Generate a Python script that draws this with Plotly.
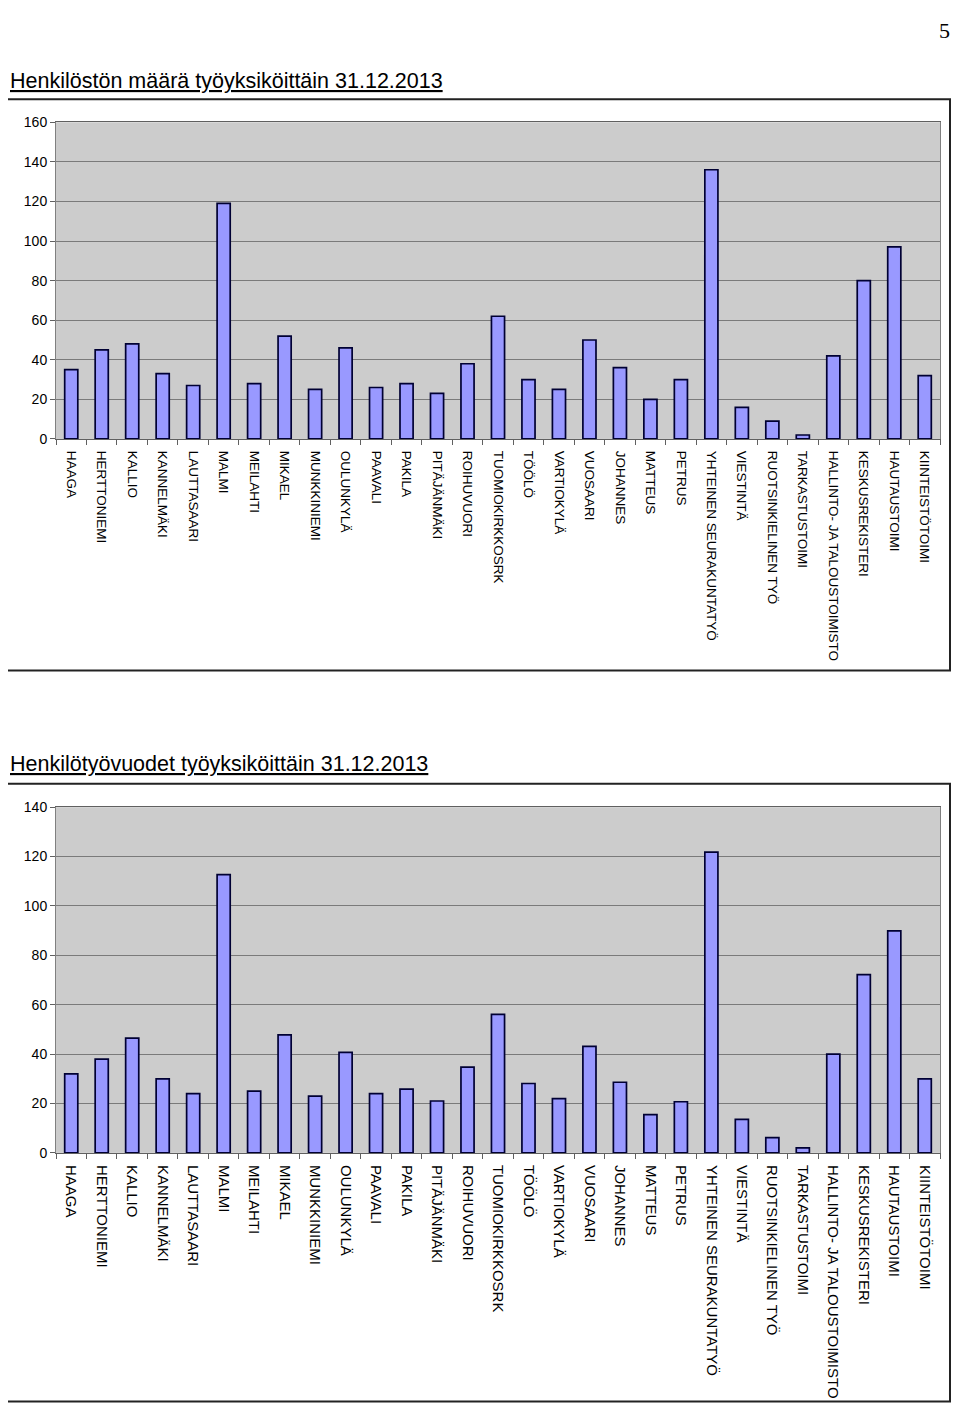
import plotly.graph_objects as go

units = ["HAAGA", "HERTTONIEMI", "KALLIO", "KANNELMÄKI", "LAUTTASAARI", "MALMI",
         "MEILAHTI", "MIKAEL", "MUNKKINIEMI", "OULUNKYLÄ", "PAAVALI", "PAKILA",
         "PITÄJÄNMÄKI", "ROIHUVUORI", "TUOMIOKIRKKOSRK", "TÖÖLÖ", "VARTIOKYLÄ",
         "VUOSAARI", "JOHANNES", "MATTEUS", "PETRUS", "YHTEINEN SEURAKUNTATYÖ",
         "VIESTINTÄ", "RUOTSINKIELINEN TYÖ", "TARKASTUSTOIMI",
         "HALLINTO- JA TALOUSTOIMISTO", "KESKUSREKISTERI", "HAUTAUSTOIMI",
         "KIINTEISTÖTOIMI"]

henkilosto = [35, 45, 48, 33, 27, 119, 28, 52, 25, 46, 26, 28, 23, 38, 62, 30, 25,
              50, 36, 20, 30, 136, 16, 9, 2, 42, 80, 97, 32]

henkilotyovuodet = [32, 38, 46.5, 30, 24, 112.7, 25, 47.8, 23, 40.7, 24, 25.8, 21,
                    34.7, 56.1, 28.1, 22, 43.1, 28.6, 15.5, 20.7, 121.8, 13.6, 6.2,
                    2, 40, 72.2, 89.9, 30]

title1 = "Henkilöstön määrä työyksiköittäin 31.12.2013"
title2 = "Henkilötyövuodet työyksiköittäin 31.12.2013"

# page offsets of the plot div and the vertical squeeze seen in the snapshot
OFFX, OFFY, K = 8, 16, 0.988
W, H = 960 - 2 * OFFX, 1403
font = "Liberation Sans, Arial, sans-serif"


def px(x):
    return (x - OFFX) / W


def py(y):
    return 1 - (y / K - OFFY) / H


bar_style = dict(color="#9999ff", line=dict(color="#000033", width=1.7))

fig = go.Figure()
fig.add_trace(go.Bar(x=units, y=henkilosto, xaxis="x", yaxis="y", marker=bar_style))
fig.add_trace(go.Bar(x=units, y=henkilotyovuodet, xaxis="x2", yaxis="y2",
                     marker=bar_style))

xdom = [px(56), px(940)]
xcommon = dict(type="category", tickangle=90, tickson="boundaries", ticks="outside",
               ticklen=5, tickcolor="#606060", showline=True, linecolor="#606060",
               mirror=True, domain=xdom, showgrid=False, ticklabelstandoff=8)
ycommon = dict(ticks="outside", ticklen=5, tickcolor="#606060", showline=True,
               linecolor="#808080", mirror=True, gridcolor="#7a7a7a", gridwidth=1,
               tickfont=dict(size=14, color="black", family=font), zeroline=False)

fig.update_layout(
    width=W, height=H, margin=dict(l=0, r=0, t=0, b=0),
    paper_bgcolor="white", plot_bgcolor="#cccccc", showlegend=False,
    bargap=0.57, font=dict(family=font),
    xaxis=dict(xcommon, anchor="y",
               tickfont=dict(size=13.5, color="black", family=font)),
    yaxis=dict(ycommon, anchor="x", range=[0, 160], dtick=20,
               domain=[py(438.5), py(122)]),
    xaxis2=dict(xcommon, anchor="y2",
                tickfont=dict(size=15, color="black", family=font)),
    yaxis2=dict(ycommon, anchor="x2", range=[0, 140], dtick=20,
                domain=[py(1152), py(806.5)]),
)

# outer frames around each chart
for y0, y1 in [(py(670), py(99)), (1.5 / H, py(783))]:
    fig.add_shape(type="rect", xref="paper", yref="paper",
                  x0=px(7), x1=px(950), y0=y0, y1=y1,
                  line=dict(color="#222222", width=2))

fig.add_annotation(text="<u>" + title1 + "</u>", xref="paper", yref="paper",
                   x=0, y=py(81), xanchor="left", yanchor="middle",
                   showarrow=False, font=dict(size=21.5, color="black", family=font))
fig.add_annotation(text="<u>" + title2 + "</u>", xref="paper", yref="paper",
                   x=0, y=py(763), xanchor="left", yanchor="middle",
                   showarrow=False, font=dict(size=21.5, color="black", family=font))
fig.add_annotation(text="5", xref="paper", yref="paper",
                   x=1, y=1, xanchor="right", yanchor="top",
                   showarrow=False,
                   font=dict(size=22, color="black",
                             family="Liberation Serif, Times New Roman, serif"))

fig.write_html("out.html")
